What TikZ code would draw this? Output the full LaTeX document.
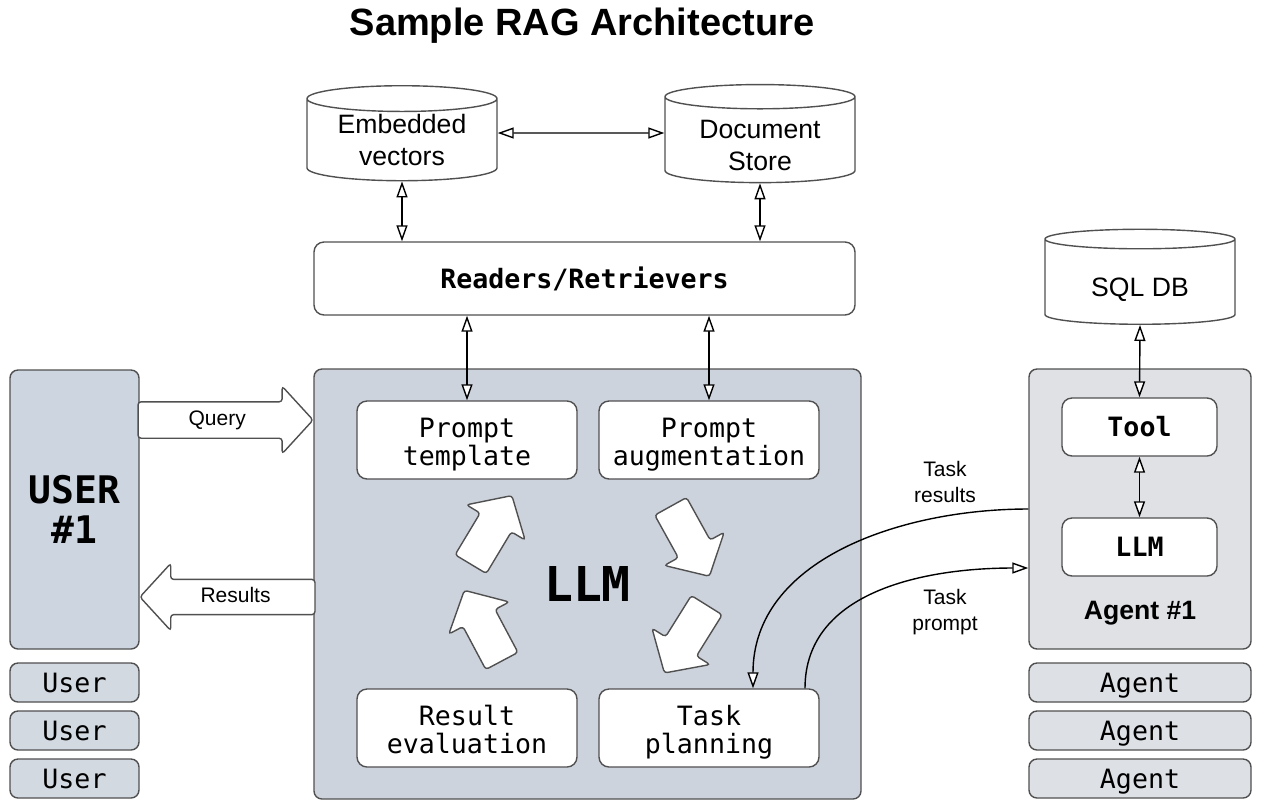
\documentclass[tikz,border=0pt]{standalone}
\usepackage{fontspec}
\setmainfont{Liberation Sans}
\setmonofont{DejaVu Sans Mono}
\usetikzlibrary{shapes.geometric,shapes.arrows,arrows.meta}
\definecolor{edge}{HTML}{505050}
\definecolor{llmgrey}{HTML}{CDD3DC}
\definecolor{usergrey}{HTML}{CDD5E0}
\definecolor{taggrey}{HTML}{D3D9E1}
\definecolor{agentgrey}{HTML}{DFE1E5}
\definecolor{agenttag}{HTML}{DDE0E4}

\begin{document}
\begin{tikzpicture}[x=0.5pt,y=-0.5pt,
    box/.style={draw=edge, fill=white, line width=0.7pt, rounded corners=5pt, align=center, inner sep=0pt,
      font=\ttfamily\fontsize{13.3}{14}\selectfont},
    cellbox/.style={box, minimum width=110pt, minimum height=39pt, text height=25.7pt, text depth=0pt},
    panel/.style={draw=edge, line width=0.7pt, rounded corners=4pt, align=center, inner sep=0pt},
    tag/.style={panel, minimum height=19.5pt, text height=9.7pt, text depth=0pt,
      font=\ttfamily\fontsize{13.3}{14}\selectfont},
    db/.style={cylinder, shape border rotate=90, aspect=0.2, draw=edge, fill=white, line width=0.7pt,
      minimum width=95pt, minimum height=47.5pt, align=center, inner sep=0pt,
      font=\fontsize{13.3}{16}\selectfont},
    dbl/.style={{Triangle[fill=white,length=8pt,width=5.5pt]}-{Triangle[fill=white,length=8pt,width=5.5pt]}, line width=0.7pt},
    oneway/.style={-{Triangle[fill=white,length=8pt,width=5.5pt]}, line width=0.7pt},
    fat/.style={single arrow, draw=edge, fill=white, line width=0.7pt, rounded corners=1.5pt,
      single arrow head extend=8pt, single arrow tip angle=95, inner xsep=0pt, inner ysep=8.75pt,
      minimum height=40pt},
    lbl/.style={align=center, font=\fontsize{10.5}{13}\selectfont}
  ]
  \useasboundingbox (0,0) rectangle (1274,800);
  % title
  \node[font=\bfseries\fontsize{19}{22}\selectfont] (title) at (582,26) {Sample RAG Architecture};
  % stores and retrievers
  \node[db] (emb) at (402,140) {Embedded\\vectors};
  \node[db, text height=30.5pt, text depth=0pt] (doc) at (760,140) {Document\\Store};
  \node[box, font=\ttfamily\bfseries\fontsize{13.3}{14}\selectfont, minimum width=270.5pt, minimum height=36.5pt] (rr) at (584.5,278.5) {Readers/Retrievers};
  % LLM block
  \node[panel, fill=llmgrey, minimum width=273.5pt, minimum height=215pt,
    font=\ttfamily\bfseries\fontsize{24}{26}\selectfont] (llm) at (587.5,584) {LLM};
  \node[cellbox] (pt) at (467,440) {Prompt\\template};
  \node[cellbox] (pa) at (709,440) {Prompt\\augmentation};
  \node[cellbox] (re) at (467,728) {Result\\evaluation};
  \node[cellbox] (tp) at (709,728) {Task\\planning};
  \node[fat, rotate=59] (c1) at (487,537) {};
  \node[fat, rotate=-61] (c2) at (686,534) {};
  \node[fat, rotate=-122] (c3) at (690,632) {};
  \node[fat, rotate=118] (c4) at (487,633) {};
  % user side
  \node[panel, fill=usergrey, minimum width=64.5pt, minimum height=139.5pt,
    font=\ttfamily\bfseries\fontsize{19}{20}\selectfont] (user) at (74.5,509.5) {USER\\\#1};
  \foreach \i/\y in {1/682.5,2/730.5,3/778.5}
    \node[tag, fill=taggrey, minimum width=64.5pt] (u\i) at (74.5,\y) {User};
  \node[fat, anchor=tip, minimum height=87.5pt, single arrow head extend=7.75pt, inner ysep=3.9pt,
    text height=7.5pt, text depth=2.2pt, font=\fontsize{10.5}{13}\selectfont] (query) at (314,420) {Query};
  \node[fat, anchor=tip, shape border rotate=180, minimum height=87.5pt, single arrow head extend=8pt, inner ysep=3.6pt,
    text height=7.5pt, text depth=2.2pt, font=\fontsize{10.5}{13}\selectfont] (results) at (139,597) {Results};
  % agent side
  \node[panel, fill=agentgrey, minimum width=111pt, minimum height=140pt] (agent) at (1140,509) {};
  \node[box, font=\ttfamily\bfseries\fontsize{13.3}{14}\selectfont, minimum width=77.5pt, minimum height=29pt] (tool) at (1139.5,427) {Tool};
  \node[box, font=\ttfamily\bfseries\fontsize{13.3}{14}\selectfont, minimum width=77.5pt, minimum height=29pt] (allm) at (1139.5,547) {LLM};
  \node[font=\bfseries\fontsize{13.3}{16}\selectfont] (agentlbl) at (1140,613) {Agent \#1};
  \foreach \i/\y in {1/682.5,2/730.5,3/778.5}
    \node[tag, fill=agenttag, minimum width=111pt] (a\i) at (1140,\y) {Agent};
  \node[db, text height=14.5pt, text depth=0pt] (sql) at (1140,282) {SQL DB};
  % connectors
  \draw[dbl] ([yshift=3.5pt]emb.east) -- ([yshift=3.5pt]doc.west);
  \draw[dbl] (emb.south) -- (emb.south |- rr.north);
  \draw[dbl] (doc.south) -- (doc.south |- rr.north);
  \draw[dbl] (rr.south -| pt.north) -- (pt.north);
  \draw[dbl] (rr.south -| pa.north) -- (pa.north);
  \draw[dbl] (sql.south) -- (tool.north);
  \draw[dbl] (tool) -- (allm);
  \draw[oneway] (agent.west) to[out=180,in=90] ([xshift=22pt]tp.north);
  \draw[oneway] ([xshift=48pt]tp.north) to[out=90,in=180] ([yshift=-29.5pt]agent.west);
  \node[lbl] (tres) at (945,482) {Task\\results};
  \node[lbl] (tprm) at (945,612) {Task\\prompt};
\end{tikzpicture}
\end{document}
